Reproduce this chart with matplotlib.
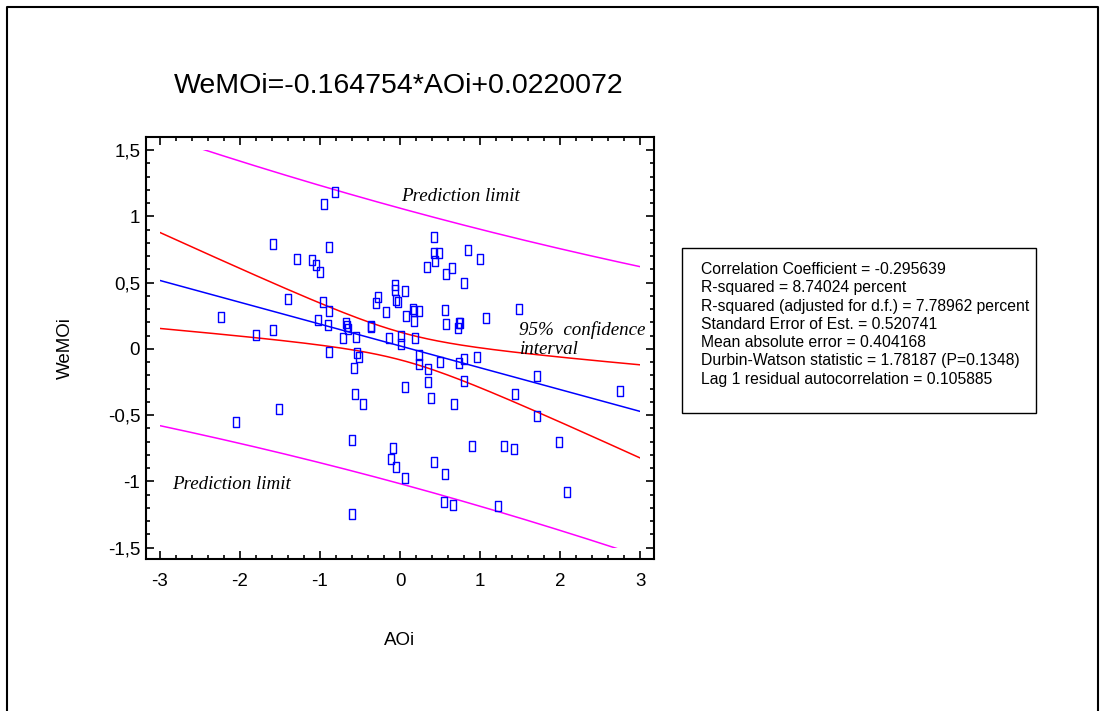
import numpy as np
import matplotlib
matplotlib.use("Agg")
import matplotlib.pyplot as plt
from matplotlib.path import Path
from matplotlib.patches import Rectangle
from matplotlib.ticker import MultipleLocator, FuncFormatter

plt.rcParams['axes.unicode_minus'] = False

# data
aoi = [-1.59, -1.29, -1.10, -1.05, -1.40, -2.23, -1.03, -1.58, -1.80,
       -0.81, -0.95, -0.886, -0.995, 0.424, 0.424, 0.487, 0.437, 0.337, 0.645,
       0.574, 0.845, 1.00, 0.80, -0.066, -0.058, 0.062, -0.27, -0.30, -0.05,
       -0.03, -0.96, -0.886, -0.18, 0.158, 0.171, 0.241, 0.075, 0.179, 0.566,
       0.574, 0.73, 0.75, 0.72, -0.90, -0.67, -0.66, -0.65, -0.362, -0.362,
       -0.71, -0.55, -0.141, 0.008, 0.008, 0.19, 1.07, 1.49,
       -2.05, -1.51,
       -0.89, -0.54, -0.51, -0.574, 0.241, 0.233, 0.345, 0.503, 0.737, 0.80,
       0.957, 0.80, 0.345, 0.058, 0.383, -0.566, -0.466, 0.67, -0.595, -0.091,
       -0.116, -0.05, 0.058, 0.424, 0.562, 0.899, 0.545, 0.662, -0.603,
       1.707, 1.43, 1.707, 2.74, 1.30, 1.42, 1.99, 2.08, 1.22]
wemoi = [0.789, 0.678, 0.67, 0.633, 0.377, 0.241, 0.216, 0.14, 0.103,
         1.18, 1.093, 0.771, 0.578, 0.844, 0.721, 0.721, 0.663, 0.615, 0.608,
         0.567, 0.746, 0.678, 0.495, 0.48, 0.447, 0.44, 0.39, 0.349, 0.372,
         0.354, 0.352, 0.286, 0.276, 0.299, 0.286, 0.286, 0.249, 0.211, 0.294,
         0.186, 0.196, 0.196, 0.158, 0.178, 0.198, 0.176, 0.153, 0.173, 0.165,
         0.085, 0.093, 0.085, 0.098, 0.038, 0.085, 0.236, 0.30,
         -0.548, -0.455,
         -0.025, -0.033, -0.063, -0.143, -0.05, -0.115, -0.153, -0.098, -0.105, -0.078,
         -0.063, -0.241, -0.251, -0.289, -0.372, -0.341, -0.417, -0.417, -0.691, -0.746,
         -0.829, -0.892, -0.975, -0.857, -0.947, -0.729, -1.158, -1.176, -1.249,
         -0.206, -0.344, -0.51, -0.316, -0.729, -0.756, -0.70, -1.078, -1.183]

slope = -0.164754
intercept = 0.0220072
std_err = 0.520741
n_obs = 98
t_crit = 1.985

stats_lines = [
    "Correlation Coefficient = -0.295639",
    "R-squared = 8.74024 percent",
    "R-squared (adjusted for d.f.) = 7.78962 percent",
    "Standard Error of Est. = 0.520741",
    "Mean absolute error = 0.404168",
    "Durbin-Watson statistic = 1.78187 (P=0.1348)",
    "Lag 1 residual autocorrelation = 0.105885",
]
y_ticks = [-1.5, -1, -0.5, 0, 0.5, 1, 1.5]
x_ticks = [-3, -2, -1, 0, 1, 2, 3]

x = np.array(aoi)
xbar = x.mean()
sxx = ((x - xbar) ** 2).sum()
xs = np.linspace(-3, 3, 200)
fit = intercept + slope * xs
conf = t_crit * std_err * np.sqrt(1.0 / n_obs + (xs - xbar) ** 2 / sxx)
pred = t_crit * std_err * np.sqrt(1 + 1.0 / n_obs + (xs - xbar) ** 2 / sxx)

fig = plt.figure(figsize=(11.04, 7.11), dpi=100)
ax = fig.add_axes([0.132, 0.2138, 0.4604, 0.5935])

clip = Rectangle((-3, -1.5), 6, 3, transform=ax.transData, visible=False)
ax.add_patch(clip)

for yy, c in [(fit, "#0000FF"), (fit + conf, "#FF0000"), (fit - conf, "#FF0000"),
              (fit + pred, "#FF00FF"), (fit - pred, "#FF00FF")]:
    ln, = ax.plot(xs, yy, color=c, lw=1.1)
    ln.set_clip_path(clip)

box = Path([(-0.7, -1), (0.7, -1), (0.7, 1), (-0.7, 1), (-0.7, -1)],
           [Path.MOVETO, Path.LINETO, Path.LINETO, Path.LINETO, Path.CLOSEPOLY])
ax.plot(aoi, wemoi, ls="none", marker=box, ms=7, mfc="none", mec="#0000FF", mew=1.0)

serif = dict(family="Liberation Serif", style="italic", fontsize=13.7)
ax.text(0.01, 1.153, "Prediction limit", va="center", **serif)
ax.text(-2.85, -1.025, "Prediction limit", va="center", **serif)
ax.text(1.49, 0.145, "95%  confidence", va="center", **serif)
ax.text(1.5, -0.005, "interval", va="center", **serif)

ax.set_xlim(-3.175, 3.17)
ax.set_ylim(-1.585, 1.598)
ax.set_xticks(x_ticks)
ax.set_yticks(y_ticks)
ax.xaxis.set_minor_locator(MultipleLocator(0.2))
ax.yaxis.set_minor_locator(MultipleLocator(0.1))
ax.yaxis.set_major_formatter(FuncFormatter(lambda v, p: ("%g" % v).replace(".", ",")))
ax.tick_params(which="both", direction="in", top=True, right=True, width=1.2)
ax.tick_params(which="major", length=5.5, labelsize=13.5)
ax.tick_params(axis="x", which="major", pad=10)
ax.tick_params(axis="y", which="major", pad=4)
ax.tick_params(which="minor", length=3)
for lab in ax.get_xticklabels() + ax.get_yticklabels():
    lab.set_family("Liberation Sans")
for s in ax.spines.values():
    s.set_linewidth(1.5)

ax.set_xlabel("AOi", fontsize=13.5, family="Liberation Sans", labelpad=30)
ax.set_ylabel("WeMOi", fontsize=13.5, family="Liberation Sans", labelpad=24)

fig.text(0.3614, 0.879, "WeMOi=-0.164754*AOi+0.0220072", ha="center", va="center",
         fontsize=20.5, family="Liberation Sans")

fig.patches.append(Rectangle((681.5 / 1104, 1 - 412.5 / 711), (1036 - 681.5) / 1104,
                             (412.5 - 247.5) / 711, transform=fig.transFigure,
                             fill=False, ec="black", lw=1.0))
for i, s in enumerate(stats_lines):
    fig.text(701 / 1104, 1 - (269.5 + 18.3 * i) / 711, s, va="center", ha="left",
             fontsize=11.3, family="Liberation Sans")

# outer frame (left, top, right)
fig.add_artist(plt.Line2D([7 / 1104, 7 / 1104, 1097.5 / 1104, 1097.5 / 1104],
                          [0, 1 - 7 / 711, 1 - 7 / 711, 0],
                          transform=fig.transFigure, color="black", lw=1.5))

fig.savefig("out.png", dpi=100)
